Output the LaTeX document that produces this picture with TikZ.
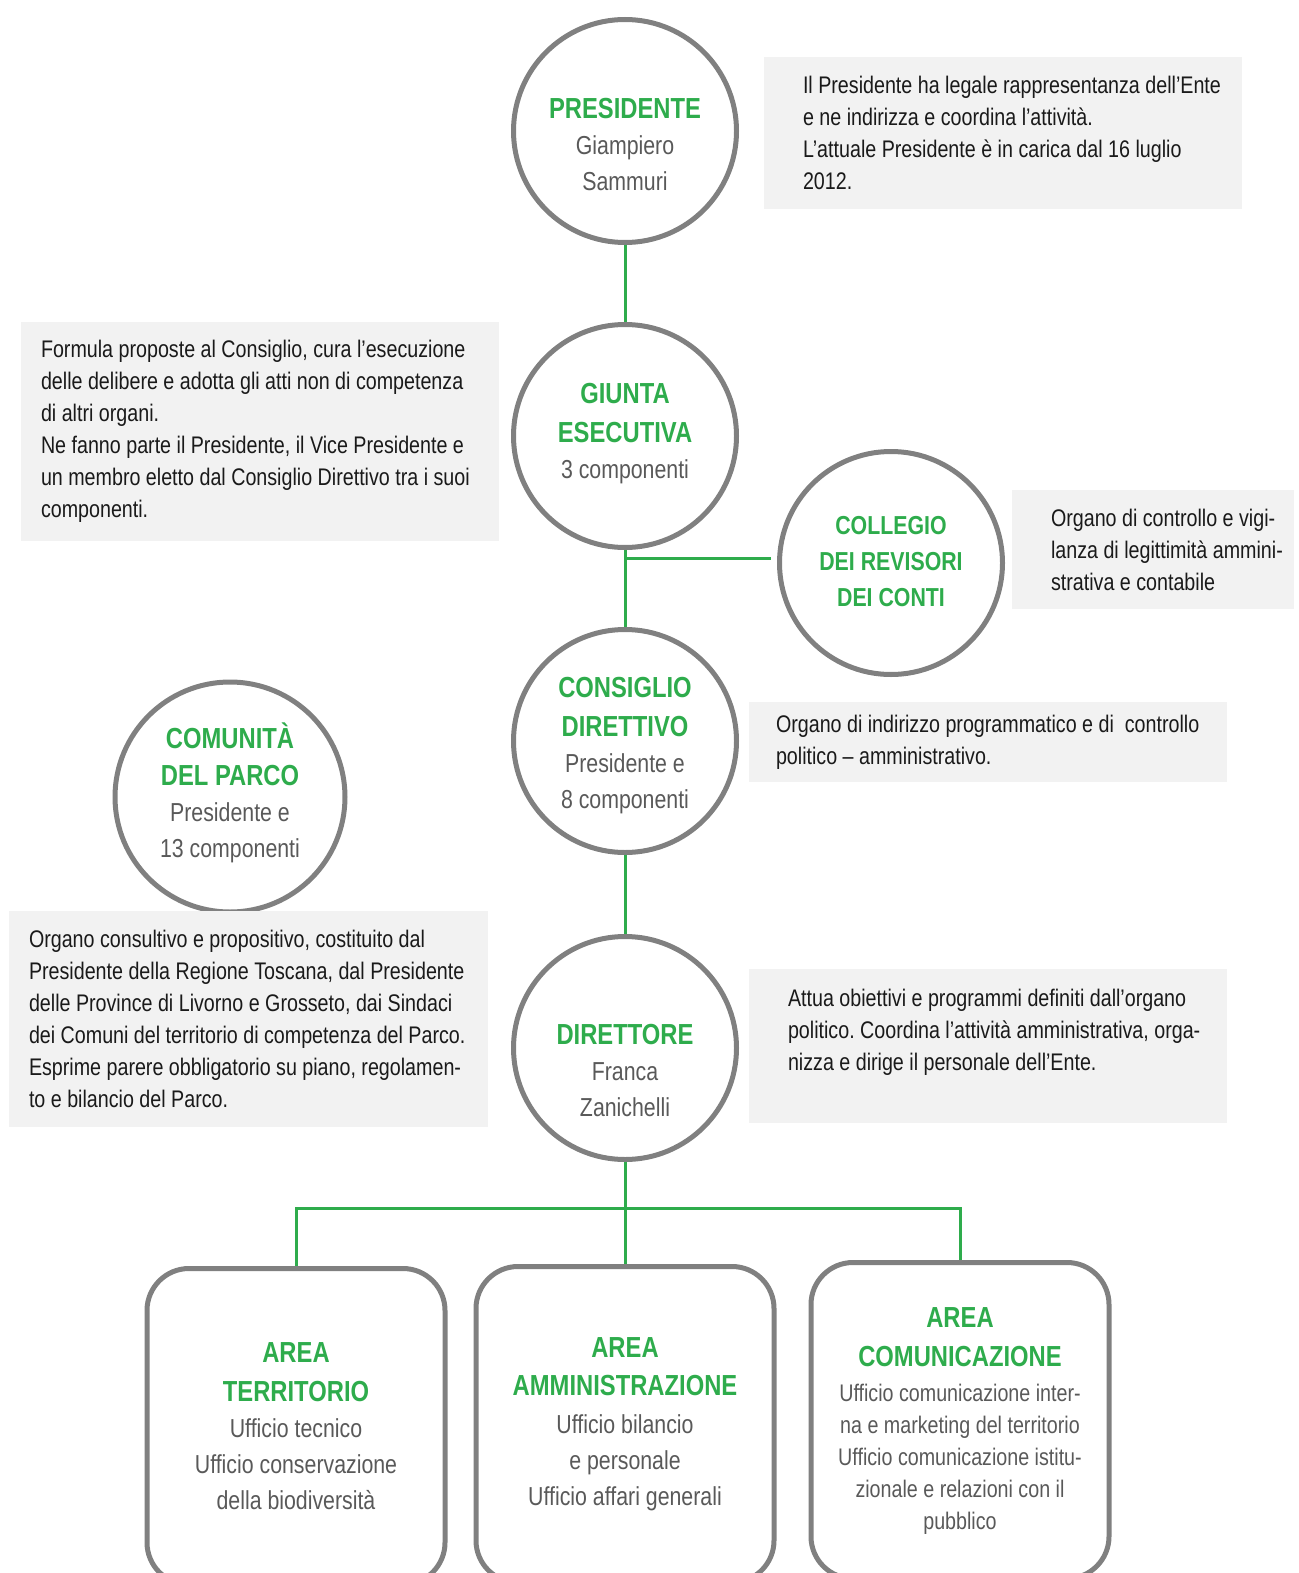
\documentclass[tikz,border=0pt]{standalone}
\usepackage{fontspec}
\setmainfont{Liberation Sans}[FakeStretch=0.82]
\usepackage{xcolor}
\usetikzlibrary{positioning,calc}
\definecolor{parkgreen}{RGB}{46,172,76}
\definecolor{ringgray}{RGB}{128,128,128}
\definecolor{notegray}{RGB}{242,242,242}
\definecolor{namegray}{RGB}{89,89,89}
\definecolor{notetext}{RGB}{26,26,26}
\newcommand{\tit}[2][14.5]{{\color{parkgreen}\bfseries\fontsize{#1}{18}\selectfont #2}}
\newcommand{\notein}[1]{\leftskip=#1\rightskip=0pt plus 1fil\parfillskip=0pt plus 1fil\spaceskip=0pt\xspaceskip=0pt\relax}
\frenchspacing

\begin{document}
\begin{tikzpicture}[x=0.5pt, y=-0.5pt,
	organ/.style={shape=circle, draw=ringgray, line width=2.5pt, minimum size=111.5pt, inner sep=0pt},
	caption/.style={align=center, text=namegray, font=\fontsize{13}{18}\selectfont, inner sep=0pt},
	note/.style={fill=notegray, text=notetext, align=left, inner sep=0pt, font=\fontsize{12}{16}\selectfont},
	area/.style={draw=ringgray, line width=2.5pt, rounded corners=21pt, minimum width=149pt, minimum height=158pt, anchor=north, align=center, text=namegray, inner sep=0pt, font=\fontsize{13}{18}\selectfont},
	link/.style={draw=parkgreen, line width=1.5pt}]
		\useasboundingbox (0,0) rectangle (1298,1573);
		\clip (0,0) rectangle (1298,1573);

		\node[name=pres, organ] at (625,131) {};
		\node[name=giunta, organ] at (625,436) {};
		\node[name=coll, organ] at (891,563) {};
		\node[name=cons, organ] at (625,741) {};
		\node[name=comun, organ, minimum size=115pt] at (230,797) {};
		\node[name=dir, organ] at (625,1048) {};

		\node[name=presTxt, caption] at (625,145) {\tit{PRESIDENTE}\\Giampiero\\Sammuri};
		\node[name=giuntaTxt, caption] at (625,434) {\tit{GIUNTA}\\[1.5pt]\tit{ESECUTIVA}\\3 componenti};
		\node[name=collTxt, caption] at (891,562) {\tit[13]{COLLEGIO}\\\tit[13]{DEI REVISORI}\\\tit[13]{DEI CONTI}};
		\node[name=consTxt, caption] at (625,746) {\tit{CONSIGLIO}\\[1.5pt]\tit{DIRETTIVO}\\Presidente e\\8 componenti};
		\node[name=comunTxt, caption] at (230,793) {\tit{COMUNITÀ}\\[0.5pt]\tit{DEL PARCO}\\Presidente e\\13 componenti};
		\node[name=dirTxt, caption] at (625,1070) {\tit{DIRETTORE}\\Franca\\Zanichelli};

		\node[name=presNote, note, text width=239pt, minimum height=76pt] at (1003,133) {\notein{19.5pt}Il Presidente ha legale rappresentanza dell’Ente\\e ne indirizza e coordina l’attività.\\L’attuale Presidente è in carica dal 16 luglio\\2012.\par};
		\node[name=giuntaNote, note, text width=239pt, minimum height=109.5pt] at (260,431.5) {\notein{10pt}Formula proposte al Consiglio, cura l’esecuzione\\delle delibere e adotta gli atti non di competenza\\di altri organi.\\Ne fanno parte il Presidente, il Vice Presidente e\\un membro eletto dal Consiglio Direttivo tra i suoi\\componenti.\par};
		\node[name=collNote, note, text width=141pt, minimum height=59.5pt] at (1153,549.5) {\notein{19.5pt}Organo di controllo e vigi-\\lanza di legittimità ammini-\\strativa e contabile\par};
		\node[name=consNote, note, text width=239pt, minimum height=40pt] at (988,742) {\notein{13.5pt}Organo di indirizzo programmatico e di~ controllo\\politico – amministrativo.\par};
		\node[name=comunNote, note, text width=239.5pt, minimum height=108pt] at (248.5,1019) {\notein{10pt}Organo consultivo e propositivo, costituito dal\\Presidente della Regione Toscana, dal Presidente\\delle Province di Livorno e Grosseto, dai Sindaci\\dei Comuni del territorio di competenza del Parco.\\Esprime parere obbligatorio su piano, regolamen-\\to e bilancio del Parco.\par};
		\node[name=dirNote, note, text width=239pt, minimum height=77pt] at (988,1046) {\notein{19.5pt}Attua obiettivi e programmi definiti dall’organo\\politico. Coordina l’attività amministrativa, orga-\\nizza e dirige il personale dell’Ente.\\\mbox{}\par};

		\node[name=terr, area] at (296,1266) {\tit{AREA}\\[1.5pt]\tit{TERRITORIO}\\Ufficio tecnico\\Ufficio conservazione\\della biodiversità};
		\node[name=amm, area] at (625,1264) {\tit{AREA}\\[1pt]\tit{AMMINISTRAZIONE}\\[1pt]Ufficio bilancio\\e personale\\Ufficio affari generali};
		\node[name=comu, area, font=\fontsize{12}{16}\selectfont] at (960,1260) {\tit{AREA}\\[3.5pt]\tit{COMUNICAZIONE}\\[1.5pt]Ufficio comunicazione inter-\\na e marketing del territorio\\Ufficio comunicazione istitu-\\zionale e relazioni con il\\pubblico};

		\draw[link] (pres) -- (giunta);
		\draw[link] (giunta) -- (cons);
		\coordinate (jct) at (625,558);
		\draw[link, shorten >=3pt] (jct) -- (jct -| coll.west);
		\draw[link] (cons) -- (dir);
		\draw[link] (dir) -- (amm);
		\coordinate (bus) at (625,1208);
		\draw[link] (terr.north) -- (terr.north |- bus) -- (comu.north |- bus) -- (comu.north);
\end{tikzpicture}
\end{document}
